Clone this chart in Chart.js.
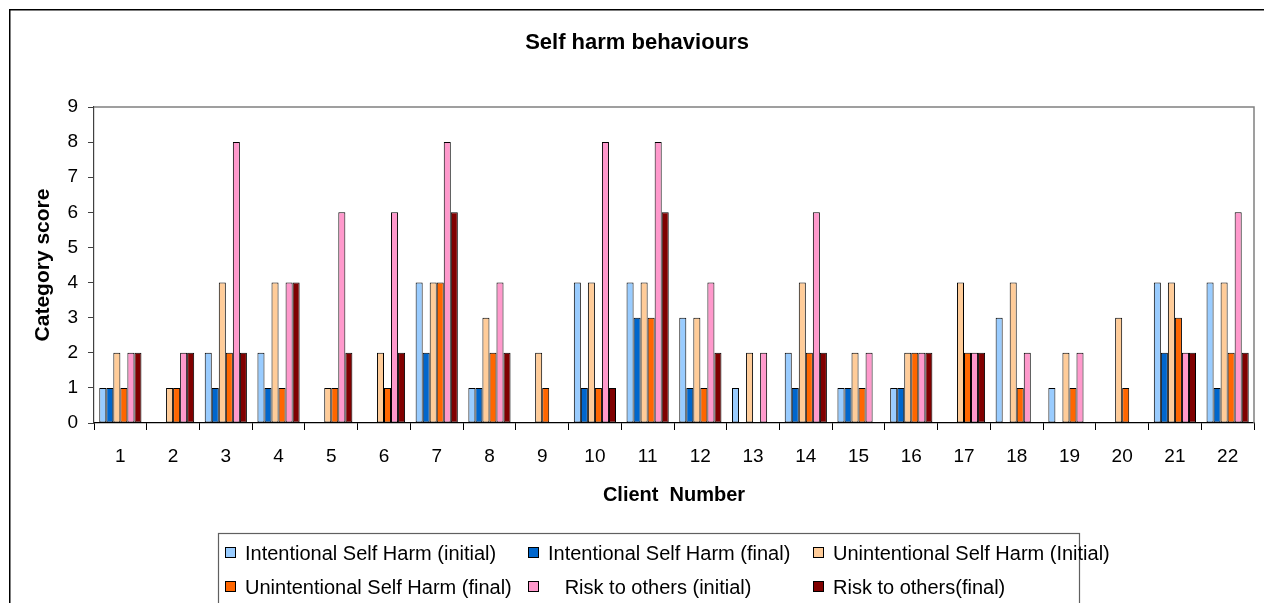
<!DOCTYPE html>
<html>
<head>
<meta charset="utf-8">
<title>Self harm behaviours</title>
<script src="https://cdn.jsdelivr.net/npm/chart.js@4.4.1/dist/chart.umd.min.js"></script>
<style>
  html, body { margin: 0; padding: 0; background: #fff; overflow: hidden; }
  #wrap { width: 1264px; height: 603px; position: relative; }
</style>
</head>
<body>
<div id="wrap"><canvas id="chart"></canvas></div>
<script>
// Client numbers along the x axis
const clients = ['1','2','3','4','5','6','7','8','9','10','11','12','13','14','15','16','17','18','19','20','21','22'];

// Category scores per client
const intentionalInitial   = [1,0,2,2,0,0,4,1,0,4,4,3,1,2,1,1,0,3,1,0,4,4];
const intentionalFinal     = [1,0,1,1,0,0,2,1,0,1,3,1,0,1,1,1,0,0,0,0,2,1];
const unintentionalInitial = [2,1,4,4,1,2,4,3,2,4,4,3,2,4,2,2,4,4,2,3,4,4];
const unintentionalFinal   = [1,1,2,1,1,1,4,2,1,1,3,1,0,2,1,2,2,1,1,1,3,2];
const riskInitial          = [2,2,8,4,6,6,8,4,0,8,8,4,2,6,2,2,2,2,2,0,2,6];
const riskFinal            = [2,2,2,4,2,2,6,2,0,1,6,2,0,2,0,2,2,0,0,0,2,2];

// Series names as shown in the key
const seriesLabels = [
  'Intentional Self Harm (initial)',
  'Intentional Self Harm (final)',
  'Unintentional Self Harm (Initial)',
  'Unintentional Self Harm (final)',
  '   Risk to others (initial)',
  'Risk to others(final)'
];

// Value axis range
const yMin = 0;
const yMax = 9;
const yStep = 1;

const FONT = '"Liberation Sans", Arial, Helvetica, sans-serif';
const colors = ['#99CCFF', '#0066CC', '#FFCC99', '#FF6600', '#FF99CC', '#800000'];
const seriesValues = [intentionalInitial, intentionalFinal, unintentionalInitial, unintentionalFinal, riskInitial, riskFinal];

const datasets = seriesValues.map((vals, i) => ({
  label: seriesLabels[i],
  data: vals,
  backgroundColor: colors[i],
  borderColor: '#000',
  borderWidth: c => (c.raw === 0 ? 0 : 1),
  borderSkipped: false,
  categoryPercentage: 0.8,
  barPercentage: 1.0
}));

// Frame, plot border and the key drawn around the bars
const decorations = {
  id: 'decorations',
  afterDraw(chart) {
    const ctx = chart.ctx;
    const a = chart.chartArea;
    ctx.save();

    // plot area border (top and right)
    ctx.strokeStyle = '#808080';
    ctx.lineWidth = 1.5;
    ctx.beginPath();
    ctx.moveTo(a.left, a.top);
    ctx.lineTo(a.right, a.top);
    ctx.lineTo(a.right, a.bottom);
    ctx.stroke();

    // outer chart frame
    ctx.strokeStyle = '#000';
    ctx.lineWidth = 1.5;
    ctx.beginPath();
    ctx.moveTo(9.75, chart.height + 5);
    ctx.lineTo(9.75, 9.75);
    ctx.lineTo(chart.width + 5, 9.75);
    ctx.stroke();

    // key box
    const boxLeft = 218.5, boxTop = 533.5, boxRight = 1079.5;
    ctx.strokeStyle = '#606060';
    ctx.lineWidth = 1.2;
    ctx.strokeRect(boxLeft, boxTop, boxRight - boxLeft, chart.height + 20 - boxTop);

    const colX = [225, 528, 813];
    const rowY = [553, 587];
    ctx.font = '20px ' + FONT;
    ctx.textBaseline = 'middle';
    ctx.textAlign = 'left';
    chart.data.datasets.forEach((ds, i) => {
      const x = colX[i % 3];
      const y = rowY[Math.floor(i / 3)];
      ctx.fillStyle = ds.backgroundColor;
      ctx.fillRect(x, y - 6, 11, 11);
      ctx.strokeStyle = '#000';
      ctx.lineWidth = 1;
      ctx.strokeRect(x + 0.5, y - 5.5, 10, 10);
      ctx.fillStyle = '#000';
      ctx.fillText(ds.label, x + 20, y + 1);
    });
    ctx.restore();
  }
};

new Chart(document.getElementById('chart'), {
  type: 'bar',
  data: { labels: clients, datasets },
  plugins: [decorations],
  options: {
    responsive: true,
    maintainAspectRatio: false,
    animation: false,
    layout: { padding: { top: 0, left: 20, right: 10, bottom: 0 } },
    plugins: {
      legend: { display: false },
      tooltip: { enabled: false },
      title: {
        display: true,
        text: 'Self harm behaviours',
        color: '#000',
        font: { family: FONT, size: 22, weight: 'bold', lineHeight: 1.2 },
        padding: { top: 29.8, bottom: 50.8 }
      }
    },
    scales: {
      x: {
        grid: { display: true, drawOnChartArea: false, drawTicks: true, tickLength: 7, color: '#000', offset: true },
        border: { display: true, color: '#000', width: 1.2 },
        ticks: { color: '#000', font: { family: FONT, size: 19 }, padding: 15, maxRotation: 0, autoSkip: false },
        title: {
          display: true,
          text: 'Client  Number',
          color: '#000',
          font: { family: FONT, size: 20, weight: 'bold', lineHeight: 1.2 },
          padding: { top: 0, bottom: 96 }
        },
        afterFit(scale) { scale.height = 180; }
      },
      y: {
        min: yMin,
        max: yMax,
        grid: { display: true, drawOnChartArea: false, drawTicks: true, tickLength: 6, color: '#404040' },
        border: { display: true, color: '#404040', width: 1.2 },
        ticks: { stepSize: yStep, color: '#000', font: { family: FONT, size: 19 }, padding: 10 },
        title: {
          display: true,
          text: 'Category score',
          color: '#000',
          font: { family: FONT, size: 21, weight: 'bold', lineHeight: 1.2 },
          padding: { top: 11, bottom: 0 }
        },
        afterFit(scale) { scale.width = 74; }
      }
    }
  }
});
</script>
</body>
</html>
